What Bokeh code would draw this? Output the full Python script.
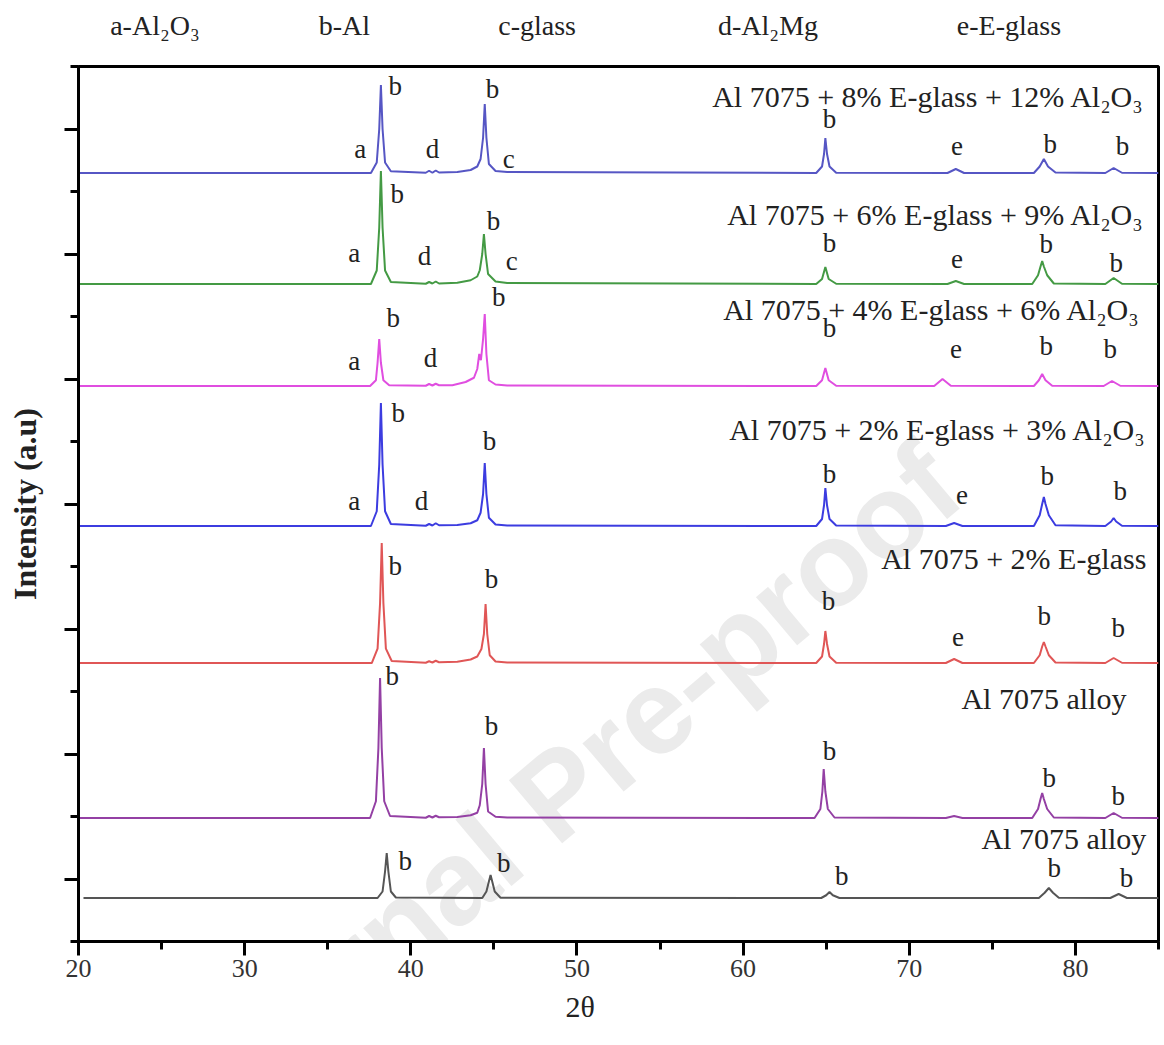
from bokeh.plotting import figure
from bokeh.models import FixedTicker, Label, ColumnDataSource, Range1d, LinearAxis
from bokeh.embed import file_html
from bokeh.resources import INLINE
from bokeh.core.properties import value

# ---------------- data (2theta, intensity a.u.) ----------------
s1_label = "Al 7075 + 8% E-glass + 12% Al₂O₃"
s1 = [(20, 5648), (37.6, 5648), (37.95, 5732), (38.1, 6000), (38.2, 6352), (38.3, 6000), (38.45, 5732), (38.8, 5662),
      (40.9, 5650), (41.1, 5666), (41.3, 5650), (41.5, 5668), (41.7, 5652), (42.8, 5656), (43.6, 5672), (44.0, 5700),
      (44.2, 5760), (44.35, 5930), (44.45, 6200), (44.55, 5930), (44.7, 5720), (45.1, 5664), (45.8, 5656),
      (64.4, 5648), (64.75, 5700), (64.87, 5800), (64.95, 5928), (65.05, 5800), (65.2, 5700), (65.6, 5650),
      (72.3, 5648), (72.8, 5680), (73.3, 5648), (77.5, 5648), (77.85, 5700), (78.1, 5760), (78.35, 5700), (78.8, 5652),
      (81.8, 5648), (82.3, 5688), (82.8, 5650), (85, 5648)]

s2_label = "Al 7075 + 6% E-glass + 9% Al₂O₃"
s2 = [(20, 4760), (37.6, 4760), (37.95, 4868), (38.1, 5212), (38.2, 5664), (38.3, 5212), (38.45, 4868), (38.8, 4776),
      (40.9, 4762), (41.1, 4776), (41.3, 4764), (41.5, 4780), (41.7, 4764), (42.8, 4770), (43.6, 4790), (44.0, 4820),
      (44.15, 4870), (44.3, 5000), (44.4, 5160), (44.5, 5000), (44.65, 4840), (45.1, 4780), (45.8, 4768),
      (64.4, 4760), (64.75, 4800), (64.95, 4896), (65.15, 4800), (65.6, 4762),
      (72.3, 4760), (72.8, 4784), (73.3, 4760), (77.4, 4760), (77.75, 4830), (77.9, 4900), (78.0, 4944), (78.1, 4900),
      (78.3, 4830), (78.7, 4764), (81.8, 4760), (82.3, 4808), (82.8, 4762), (85, 4760)]

s3_label = "Al 7075 + 4% E-glass + 6% Al₂O₃"
s3 = [(20, 3944), (37.55, 3944), (37.9, 3990), (38.0, 4130), (38.1, 4320), (38.2, 4130), (38.35, 3990), (38.7, 3950),
      (40.9, 3946), (41.1, 3960), (41.3, 3948), (41.5, 3962), (41.7, 3950), (42.5, 3950), (43.3, 3976), (43.8, 4010),
      (44.0, 4080), (44.12, 4200), (44.22, 4150), (44.35, 4320), (44.45, 4520), (44.55, 4200), (44.7, 3990),
      (45.1, 3956), (45.8, 3948), (64.4, 3944), (64.75, 3990), (64.95, 4088), (65.15, 3990), (65.6, 3946),
      (71.5, 3944), (72.0, 4000), (72.5, 3946), (77.5, 3944), (77.8, 3990), (78.0, 4040), (78.2, 3990), (78.6, 3946),
      (81.7, 3944), (82.2, 3984), (82.7, 3946), (85, 3944)]

s4_label = "Al 7075 + 2% E-glass + 3% Al₂O₃"
s4 = [(20, 2824), (37.6, 2824), (37.95, 2942), (38.1, 3316), (38.2, 3808), (38.3, 3316), (38.45, 2942), (38.8, 2840),
      (40.9, 2826), (41.1, 2840), (41.3, 2828), (41.5, 2846), (41.7, 2830), (42.8, 2832), (43.6, 2846), (44.0, 2870),
      (44.2, 2930), (44.35, 3080), (44.45, 3328), (44.55, 3080), (44.7, 2890), (45.1, 2836), (45.8, 2828),
      (64.4, 2824), (64.75, 2880), (64.87, 2990), (64.95, 3128), (65.05, 2990), (65.2, 2880), (65.6, 2828),
      (72.2, 2824), (72.7, 2848), (73.2, 2824), (77.5, 2824), (77.85, 2910), (78.0, 3000), (78.1, 3056), (78.2, 3000),
      (78.4, 2910), (78.8, 2830), (81.8, 2824), (82.15, 2860), (82.3, 2888), (82.45, 2860), (82.8, 2826), (85, 2824)]

s5_label = "Al 7075 + 2% E-glass"
s5 = [(20, 1728), (37.65, 1728), (38.0, 1843), (38.15, 2208), (38.25, 2688), (38.35, 2208), (38.5, 1843), (38.85, 1744),
      (40.9, 1730), (41.1, 1742), (41.3, 1732), (41.5, 1746), (41.7, 1734), (42.8, 1738), (43.6, 1756), (44.0, 1780),
      (44.25, 1840), (44.4, 1960), (44.5, 2200), (44.6, 1960), (44.75, 1790), (45.1, 1740), (45.8, 1732),
      (64.4, 1728), (64.75, 1780), (64.87, 1880), (64.95, 1984), (65.05, 1880), (65.2, 1780), (65.6, 1730),
      (72.2, 1728), (72.7, 1760), (73.2, 1728), (77.5, 1728), (77.85, 1790), (78.0, 1860), (78.1, 1896), (78.2, 1860),
      (78.4, 1790), (78.8, 1732), (81.8, 1728), (82.3, 1768), (82.8, 1730), (85, 1728)]

s6_label = "Al 7075 alloy"
s6 = [(20, 488), (37.55, 488), (37.9, 622), (38.05, 1048), (38.15, 1608), (38.25, 1048), (38.4, 622), (38.75, 504),
      (40.9, 490), (41.1, 504), (41.3, 492), (41.5, 506), (41.7, 494), (42.8, 496), (43.6, 510), (44.0, 530),
      (44.15, 590), (44.3, 760), (44.4, 1048), (44.5, 760), (44.65, 540), (45.1, 498), (45.8, 492),
      (64.3, 488), (64.65, 560), (64.77, 700), (64.85, 880), (64.95, 700), (65.1, 560), (65.5, 492),
      (72.2, 488), (72.7, 504), (73.2, 488), (77.4, 488), (77.75, 560), (77.9, 640), (78.0, 688), (78.1, 640),
      (78.3, 560), (78.7, 492), (81.8, 488), (82.3, 528), (82.8, 490), (85, 488)]

s7_label = "Al 7075 alloy"
s7 = [(20.3, -152), (38.0, -152), (38.3, -100), (38.45, 60), (38.55, 208), (38.65, 60), (38.8, -100), (39.1, -148),
      (44.3, -152), (44.55, -100), (44.7, -20), (44.8, 32), (44.9, -20), (45.05, -100), (45.4, -150),
      (64.7, -152), (65.0, -130), (65.2, -104), (65.4, -130), (65.8, -152),
      (77.8, -152), (78.15, -110), (78.4, -72), (78.65, -110), (79.0, -150),
      (82.1, -152), (82.6, -120), (83.1, -152), (85, -152)]

series = [s1, s2, s3, s4, s5, s6, s7]
series_labels = [s1_label, s2_label, s3_label, s4_label, s5_label, s6_label, s7_label]
series_colors = ["#5656c4", "#449a44", "#e04ee0", "#3c3ce0", "#e05656", "#9440a4", "#555555"]

phase_keys = ["a-Al₂O₃", "b-Al", "c-glass", "d-Al₂Mg", "e-E-glass"]

x_ticks = [20, 30, 40, 50, 60, 70, 80]
x_minor = [25, 35, 45, 55, 65, 75, 85]
y_ticks = [0, 1000, 2000, 3000, 4000, 5000, 6000]
y_minor = [-500, 500, 1500, 2500, 3500, 4500, 5500, 6500]

# peak phase letters: (letter, 2theta, intensity position)
peak_letters = [
    ("b", 39.07, 6344), ("b", 44.92, 6320), ("a", 36.96, 5840), ("d", 41.30, 5840), ("c", 45.89, 5760),
    ("b", 65.20, 6080), ("e", 72.87, 5864), ("b", 78.48, 5880), ("b", 82.83, 5864),
    ("b", 39.19, 5480), ("b", 44.98, 5264), ("a", 36.60, 5008), ("d", 40.82, 4984), ("c", 46.07, 4944),
    ("b", 65.20, 5088), ("e", 72.87, 4960), ("b", 78.24, 5080), ("b", 82.46, 4928),
    ("b", 38.95, 4488), ("b", 45.29, 4656), ("a", 36.60, 4144), ("d", 41.18, 4168),
    ("b", 65.20, 4408), ("e", 72.81, 4240), ("b", 78.24, 4264), ("b", 82.10, 4240),
    ("b", 39.25, 3728), ("b", 44.74, 3504), ("a", 36.60, 3024), ("d", 40.64, 3024),
    ("b", 65.20, 3240), ("e", 73.17, 3072), ("b", 78.30, 3224), ("b", 82.70, 3104),
    ("b", 39.07, 2504), ("b", 44.86, 2400), ("b", 65.14, 2224), ("e", 72.93, 1936), ("b", 78.12, 2104), ("b", 82.58, 2008),
    ("b", 38.89, 1624), ("b", 44.86, 1224), ("b", 65.20, 1024), ("b", 78.42, 808), ("b", 82.58, 664),
    ("b", 39.67, 144), ("b", 45.59, 128), ("b", 65.93, 24), ("b", 78.72, 88), ("b", 83.07, 8),
]

# ---------------- layout / styling ----------------
SERIF = "Liberation Serif"
title_pos = [(84.15, 6264), (84.15, 5320), (83.91, 4560), (84.27, 3600), (84.27, 2568), (83.07, 1448), (84.27, 328)]
key_x = [24.6, 36.0, 47.6, 61.5, 76.0]
xlabel_x = 50.2

p = figure(width=1160, height=1030, x_range=Range1d(20, 85), y_range=Range1d(-500, 6500),
           output_backend="svg", toolbar_location=None,
           min_border_left=78, min_border_right=2, min_border_top=66, min_border_bottom=89)
p.grid.visible = False
p.background_fill_color = "white"
p.border_fill_color = "white"
p.outline_line_color = "black"
p.outline_line_width = 3

p.xaxis.ticker = FixedTicker(ticks=x_ticks, minor_ticks=x_minor)
p.yaxis.ticker = FixedTicker(ticks=y_ticks, minor_ticks=y_minor)
p.yaxis.major_label_overrides = {t: "" for t in y_ticks}
for ax in (p.xaxis[0], p.yaxis[0]):
    ax.axis_line_width = 3
    ax.axis_line_color = "black"
    ax.major_tick_line_width = 3
    ax.minor_tick_line_width = 3
    ax.major_tick_out = 14
    ax.major_tick_in = 0
    ax.minor_tick_out = 8
    ax.minor_tick_in = 0
    ax.major_label_text_font = SERIF
    ax.major_label_text_font_size = "26px"
    ax.major_label_text_color = "#333333"
p.xaxis.major_label_standoff = 4
p.yaxis.axis_label = "Intensity (a.u)"
p.yaxis.axis_label_text_font = SERIF
p.yaxis.axis_label_text_font_style = "bold"
p.yaxis.axis_label_text_font_size = "32px"
p.yaxis.axis_label_text_color = "#222222"
p.yaxis.axis_label_standoff = 22

# x-axis title "2θ" placed under the 50 tick, as in the reference
xlab_axis = LinearAxis(ticker=FixedTicker(ticks=[xlabel_x], minor_ticks=[]),
                       major_label_overrides={xlabel_x: "2θ"})
xlab_axis.axis_line_color = None
xlab_axis.major_tick_line_color = None
xlab_axis.minor_tick_line_color = None
xlab_axis.major_label_text_font = SERIF
xlab_axis.major_label_text_font_size = "30px"
xlab_axis.major_label_text_color = "#222222"
xlab_axis.major_label_standoff = 4
p.add_layout(xlab_axis, "below")

# phase key across the top
key_axis = LinearAxis(ticker=FixedTicker(ticks=key_x, minor_ticks=[]),
                      major_label_overrides=dict(zip(key_x, phase_keys)))
key_axis.axis_line_color = None
key_axis.major_tick_line_color = None
key_axis.minor_tick_line_color = None
key_axis.major_label_text_font = SERIF
key_axis.major_label_text_font_size = "28px"
key_axis.major_label_text_color = "#222222"
key_axis.major_label_standoff = 20
p.add_layout(key_axis, "above")

# watermark
p.add_layout(Label(x=48.8, y=690, text="Journal Pre-proof", angle=0.70, text_align="center",
                   text_baseline="middle", text_font="Liberation Sans", text_font_style="bold",
                   text_font_size="120px", text_color="#ebebeb", level="underlay"))

for data, col in zip(series, series_colors):
    xs = [d[0] for d in data]
    ys = [d[1] for d in data]
    p.line(xs, ys, line_color=col, line_width=2)

letters_src = ColumnDataSource(dict(t=[l[0] for l in peak_letters],
                                    x=[l[1] for l in peak_letters],
                                    y=[l[2] for l in peak_letters]))
p.text(x="x", y="y", text="t", source=letters_src, text_font=value(SERIF), text_font_size="27px",
       text_align="center", text_baseline="middle", text_color="#222222")

title_src = ColumnDataSource(dict(t=series_labels, x=[t[0] for t in title_pos], y=[t[1] for t in title_pos]))
p.text(x="x", y="y", text="t", source=title_src, text_font=value(SERIF), text_font_size="30px",
       text_align="right", text_baseline="middle", text_color="#222222")

open("out.html", "w").write(file_html(p, INLINE))
